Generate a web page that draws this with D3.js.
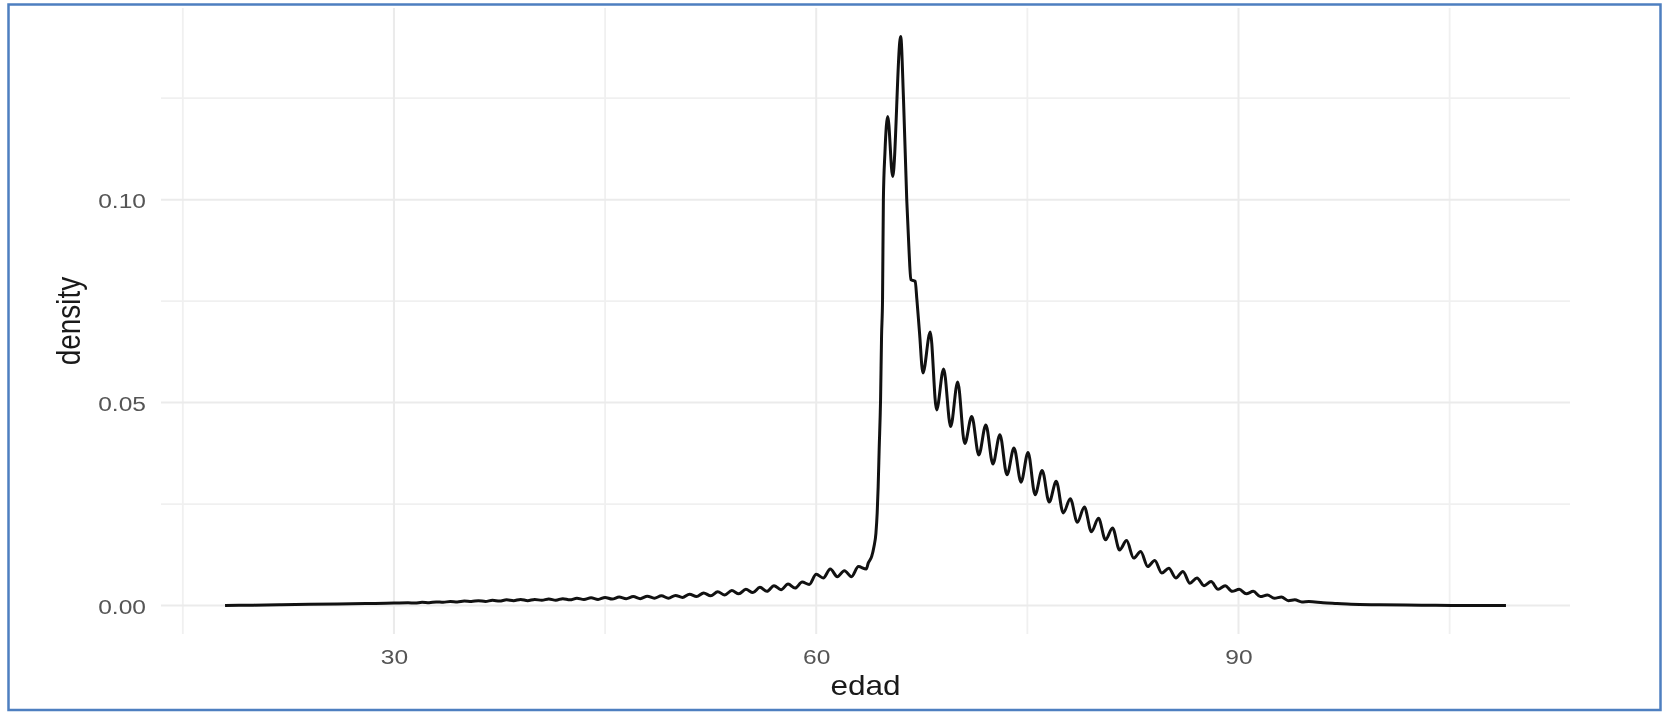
<!DOCTYPE html>
<html>
<head>
<meta charset="utf-8">
<script src="https://cdn.jsdelivr.net/npm/d3@7"></script>
<style>
  html, body { margin: 0; padding: 0; background: #ffffff; }
  svg { display: block; filter: blur(0.4px); }
</style>
</head>
<body>
<svg id="chart" width="1665" height="712"></svg>
<script>
// ---- data (edad vs density) ----
const edad = [
  18, 20, 22, 24, 26, 28, 30,
  31, 31.5, 32, 32.5, 33, 33.5, 34, 34.5, 35, 35.5, 36, 36.5, 37, 37.5,
  38, 38.5, 39, 39.5, 40, 40.5, 41, 41.5, 42, 42.5, 43, 43.5, 44, 44.5,
  45, 45.5, 46, 46.5, 47, 47.5, 48, 48.5, 49, 49.5, 50, 50.5, 51, 51.5,
  52, 52.5, 53, 53.5, 54, 54.5, 55, 55.5, 56, 56.5, 57, 57.5, 58, 58.5,
  59, 59.5, 60, 60.5, 61, 61.5, 62, 62.5, 63, 63.55,
  63.7, 63.94, 64.1, 64.24, 64.33, 64.4, 64.47, 64.57, 64.64, 64.71, 64.77, 64.88,
  65.08, 65.43, 66.0, 66.2, 66.43, 66.6, 66.72, 67.03, 67.15, 67.34, 67.58,
  68.1, 68.55, 69.05, 69.55, 70.05, 70.55, 71.05, 71.55, 72.05, 72.55,
  73.05, 73.55, 74.05, 74.55, 75.05, 75.55, 76.05, 76.55, 77.05, 77.55,
  78.05, 78.55, 79.05, 79.55, 80.05, 80.55, 81.05, 81.55, 82.05, 82.55,
  83.05, 83.55, 84.05, 84.55, 85.05, 85.55, 86.05, 86.55, 87.05, 87.55,
  88.05, 88.55, 89.05, 89.55, 90.05, 90.55, 91.05, 91.55, 92.05, 92.55,
  93.05, 93.55, 94, 94.5, 95, 96, 97, 98, 100, 103, 106, 109
];
const density = [
  0.0000, 0.0001, 0.0002, 0.0003, 0.0004, 0.0005, 0.0006,
  0.0007, 0.0006, 0.0008, 0.0007, 0.0009, 0.0008, 0.0010, 0.0009, 0.0011, 0.0010, 0.0012, 0.0010, 0.0013, 0.0011,
  0.0014, 0.0012, 0.0015, 0.0012, 0.0015, 0.0013, 0.0016, 0.0013, 0.0017, 0.0014, 0.0018, 0.0015, 0.0019, 0.0015,
  0.0020, 0.0016, 0.0021, 0.0017, 0.0022, 0.0017, 0.0023, 0.0018, 0.0024, 0.0018, 0.0025, 0.0020, 0.0028, 0.0022,
  0.0031, 0.0024, 0.0034, 0.0026, 0.0037, 0.0029, 0.0040, 0.0032, 0.0045, 0.0035, 0.0049, 0.0039, 0.0053, 0.0043,
  0.0058, 0.0052, 0.0077, 0.0068, 0.0090, 0.0071, 0.0086, 0.0071, 0.0096, 0.0090,
  0.0105, 0.0121, 0.0145, 0.0178, 0.0228, 0.0293, 0.0384, 0.0507, 0.0663, 0.0754, 0.1000, 0.1115,
  0.1205, 0.1057, 0.1402, 0.1247, 0.1000, 0.0869, 0.0803, 0.0799, 0.0754, 0.0671, 0.0573,
  0.0674, 0.0482, 0.0583, 0.0441, 0.0551, 0.0399, 0.0466, 0.0371, 0.0445, 0.0349,
  0.0421, 0.0322, 0.0388, 0.0304, 0.0377, 0.0273, 0.0333, 0.0255, 0.0306, 0.0228,
  0.0263, 0.0205, 0.0243, 0.0182, 0.0215, 0.0162, 0.0191, 0.0137, 0.0160, 0.0117,
  0.0133, 0.0096, 0.0111, 0.0080, 0.0092, 0.0068, 0.0084, 0.0055, 0.0068, 0.0049,
  0.0059, 0.0040, 0.0049, 0.0035, 0.0040, 0.0029, 0.0035, 0.0022, 0.0026, 0.0018,
  0.0021, 0.0012, 0.0014, 0.0009, 0.0010, 0.0007, 0.0005, 0.0003, 0.0002, 0.0001, 0.0000, 0.0000
];
const xMajorTicks = [30, 60, 90];
const xMinorTicks = [15, 45, 75, 105];
const yMajorTicks = [0, 0.05, 0.10];
const yMinorTicks = [0.025, 0.075, 0.125];
const xTitle = "edad";
const yTitle = "density";

// ---- layout ----
const svg = d3.select("#chart");
const panel = { left: 161, right: 1570, top: 8, bottom: 634 };
const FONT = "Liberation Sans, Arial, sans-serif";
const STRETCH = 1.17; // reference text is horizontally widened

const xExt = d3.extent(edad), yExt = [0, d3.max(density)];
const xPad = (xExt[1] - xExt[0]) * 0.05, yPad = (yExt[1] - yExt[0]) * 0.05;
const x = d3.scaleLinear().domain([xExt[0] - xPad, xExt[1] + xPad]).range([panel.left, panel.right]);
const y = d3.scaleLinear().domain([yExt[0] - yPad, yExt[1] + yPad]).range([panel.bottom, panel.top]);

const grid = svg.append("g");
grid.selectAll("line.vmin").data(xMinorTicks).join("line")
  .attr("x1", d => x(d)).attr("x2", d => x(d)).attr("y1", panel.top).attr("y2", panel.bottom)
  .attr("stroke", "#f0f0f0").attr("stroke-width", 1.8);
grid.selectAll("line.hmin").data(yMinorTicks).join("line")
  .attr("y1", d => y(d)).attr("y2", d => y(d)).attr("x1", panel.left).attr("x2", panel.right)
  .attr("stroke", "#f0f0f0").attr("stroke-width", 1.8);
grid.selectAll("line.vmaj").data(xMajorTicks).join("line")
  .attr("x1", d => x(d)).attr("x2", d => x(d)).attr("y1", panel.top).attr("y2", panel.bottom)
  .attr("stroke", "#ebebeb").attr("stroke-width", 2);
grid.selectAll("line.hmaj").data(yMajorTicks).join("line")
  .attr("y1", d => y(d)).attr("y2", d => y(d)).attr("x1", panel.left).attr("x2", panel.right)
  .attr("stroke", "#ebebeb").attr("stroke-width", 2);

// axes (labels only)
const xAxis = d3.axisBottom(x).tickValues(xMajorTicks).tickSize(0).tickPadding(0).tickFormat(d3.format("d"));
const gx = svg.append("g").attr("transform", `translate(0,${panel.bottom})`).call(xAxis);
gx.select(".domain").remove();
gx.selectAll("text").attr("y", 30).attr("dy", 0).attr("transform", `scale(${STRETCH},1)`)
  .attr("font-family", FONT).attr("font-size", 21).attr("fill", "#555555");

const yAxis = d3.axisLeft(y).tickValues(yMajorTicks).tickSize(0).tickPadding(0).tickFormat(d3.format(".2f"));
const gy = svg.append("g").attr("transform", `translate(146,0)`).call(yAxis);
gy.select(".domain").remove();
gy.selectAll("text").attr("x", 0).attr("dy", "0.36em").attr("transform", `scale(${STRETCH},1)`)
  .attr("font-family", FONT).attr("font-size", 21).attr("fill", "#555555");

// titles
svg.append("text")
  .attr("transform", `translate(${(panel.left + panel.right) / 2},695) scale(${STRETCH},1)`)
  .attr("text-anchor", "middle").attr("font-family", FONT)
  .attr("font-size", 27).attr("fill", "#1a1a1a").text(xTitle);
svg.append("text")
  .attr("transform", `translate(80,${(panel.top + panel.bottom) / 2}) scale(${STRETCH},1) rotate(-90)`)
  .attr("text-anchor", "middle").attr("font-family", FONT)
  .attr("font-size", 28).attr("fill", "#1a1a1a").text(yTitle);

// density line
const pts = edad.map((e, i) => [e, density[i]]);
const line = d3.line().x(d => x(d[0])).y(d => y(d[1])).curve(d3.curveMonotoneX);
svg.append("path").datum(pts).attr("d", line)
  .attr("fill", "none").attr("stroke", "#111111").attr("stroke-width", 3).attr("stroke-linejoin", "round");

// outer blue frame
svg.append("rect").attr("x", 8.5).attr("y", 4.5).attr("width", 1652).attr("height", 705.5)
  .attr("fill", "none").attr("stroke", "#4e7fc0").attr("stroke-width", 2.5);
</script>
</body>
</html>
